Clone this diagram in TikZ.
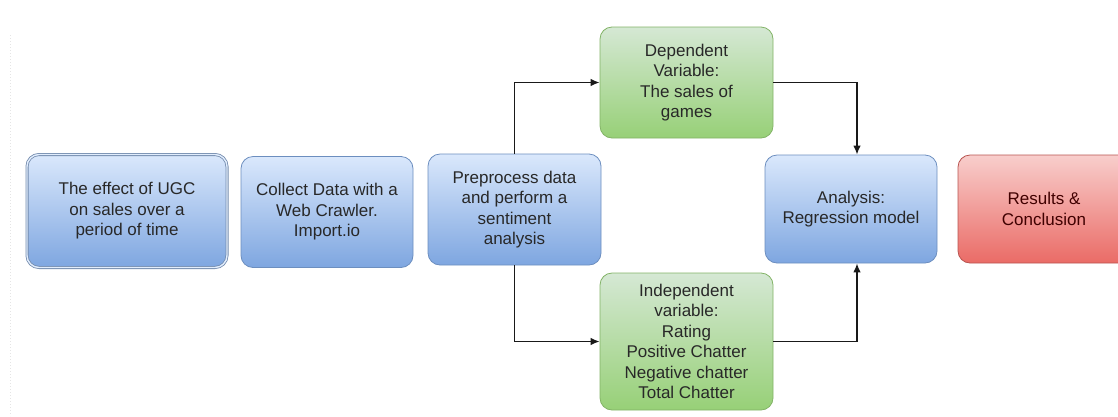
\documentclass[tikz,border=0pt]{standalone}
\usepackage{fontspec}
\setmainfont{Liberation Sans}
\usepackage{tikz}
\definecolor{bluetop}{RGB}{218, 232, 252}
\definecolor{bluebot}{RGB}{126, 166, 224}
\definecolor{blueline}{RGB}{108, 142, 191}
\definecolor{greentop}{RGB}{213, 232, 212}
\definecolor{greenbot}{RGB}{151, 208, 119}
\definecolor{greenline}{RGB}{130, 179, 102}
\definecolor{redtop}{RGB}{248, 206, 204}
\definecolor{redbot}{RGB}{234, 107, 102}
\definecolor{redline}{RGB}{184, 84, 80}
\definecolor{txt}{RGB}{40, 40, 40}
\usetikzlibrary{positioning}
\usetikzlibrary{arrows.meta}

\begin{document}
\begin{tikzpicture}[
every node/.style={inner sep=0pt, align=center, text=txt, font=\fontsize{17}{20.5}\selectfont},
box/.style={rectangle, rounded corners=12pt, line width=0.8pt},
bluebox/.style={box, top color=bluetop, bottom color=bluebot, draw=blueline},
greenbox/.style={box, top color=greentop, bottom color=greenbot, draw=greenline},
redbox/.style={box, top color=redtop, bottom color=redbot, draw=redline, text=black!75!red},
link/.style={line width=1.4pt, color=black!90, -{Latex[length=9pt, width=7.5pt]}}]
\useasboundingbox (0pt, 0pt) rectangle (1118pt, -416pt);
\draw [gray!20, dotted, line width=1pt] (10pt, -35pt) -- (10pt, -416pt);
\node (1) [bluebox, minimum width=200pt, minimum height=113pt, draw=blueline!70!gray, double=bluetop!80!white, double distance=1.4pt] at (127.0pt, -211.0pt) {The effect of UGC\\on sales over a\\period of time};
\node (2) [bluebox, minimum width=172pt, minimum height=111pt] at (327.0pt, -212.0pt) {Collect Data with a\\Web Crawler.\\Import.io};
\node (3) [bluebox, minimum width=173pt, minimum height=111pt] at (514.5pt, -209.5pt) {Preprocess data\\and perform a\\sentiment\\analysis};
\node (4) [greenbox, minimum width=173pt, minimum height=111pt] at (686.5pt, -82.5pt) {Dependent\\Variable:\\The sales of\\games};
\node (5) [greenbox, minimum width=173pt, minimum height=137pt] at (686.5pt, -341.5pt) {Independent\\variable:\\Rating\\Positive Chatter\\Negative chatter\\Total Chatter};
\node (6) [bluebox, minimum width=172pt, minimum height=108pt] at (851.0pt, -209.0pt) {Analysis:\\Regression model};
\node (7) [redbox, minimum width=172pt, minimum height=108pt] at (1044.0pt, -209.0pt) {Results \&\\Conclusion};
\draw [link] (3) |- (4);
\draw [link] (3) |- (5);
\draw [link] (4) -| ([xshift=6pt]6.north);
\draw [link] (5) -| ([xshift=6pt]6.south);
\end{tikzpicture}
\end{document}
